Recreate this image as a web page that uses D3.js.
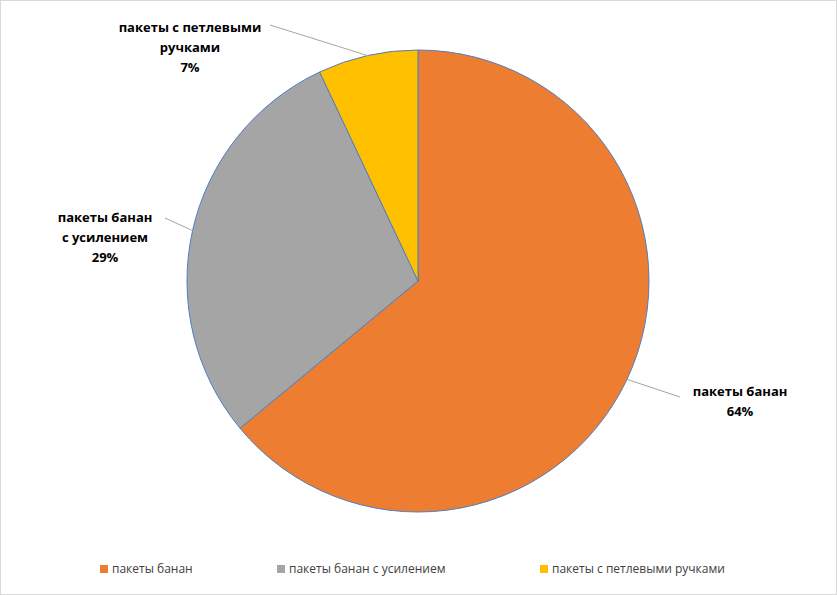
<!DOCTYPE html>
<html><head><meta charset="utf-8">
<script src="https://cdn.jsdelivr.net/npm/d3@7"></script>
<style>body{margin:0;background:#fff}text{font-family:"Open Sans","Liberation Sans",sans-serif}</style>
</head><body><svg id="c" width="837" height="595"></svg>
<script>
const categories = ["пакеты банан", "пакеты банан с усилением", "пакеты с петлевыми ручками"];
const values = [64, 29, 7];
const labelLines = [["пакеты банан","64%"],["пакеты банан","с усилением","29%"],["пакеты с петлевыми","ручками","7%"]];
const colors = ["#ED7D31","#A5A5A5","#FFC000"];

const svg = d3.select("#c");
svg.append("rect").attr("x",0.5).attr("y",0.5).attr("width",836).attr("height",594).attr("fill","#fff").attr("stroke","#D9D9D9");
const cx=418, cy=281, r=231;
const pie = d3.pie().sort(null)(values);
const arc = d3.arc().innerRadius(0).outerRadius(r);
const g = svg.append("g").attr("transform",`translate(${cx},${cy})`);
g.selectAll("path").data(pie).join("path").attr("d",arc)
  .attr("fill",(d,i)=>colors[i]).attr("stroke","#4F7EC4").attr("stroke-width",1);

// labels: anchor positions (text center) and leader line end
const labPos = [[740,392],[105,218],[190,28]];
const leaderEnds = [[680,397],[165,218],[270,25]];
pie.forEach((d,i)=>{
  const a = (d.startAngle+d.endAngle)/2;
  const px = cx + r*Math.sin(a), py = cy - r*Math.cos(a);
  svg.append("polyline").attr("points",`${px},${py} ${leaderEnds[i][0]},${leaderEnds[i][1]}`)
    .attr("fill","none").attr("stroke","#A6A6A6").attr("stroke-width",1);
  const t = svg.append("text").attr("text-anchor","middle").attr("font-size",13).attr("font-weight","bold").attr("fill","#000");
  labelLines[i].forEach((s,j)=>t.append("tspan").attr("x",labPos[i][0]).attr("y",labPos[i][1]+j*20+4).text(s));
});

// legend
const lx=[100,277,540];
categories.forEach((c,i)=>{
  svg.append("rect").attr("x",lx[i]).attr("y",565).attr("width",8).attr("height",8).attr("fill",colors[i]);
  svg.append("text").attr("x",lx[i]+12).attr("y",573).attr("font-size",12).attr("fill","#404040").text(c);
});
</script></body></html>
